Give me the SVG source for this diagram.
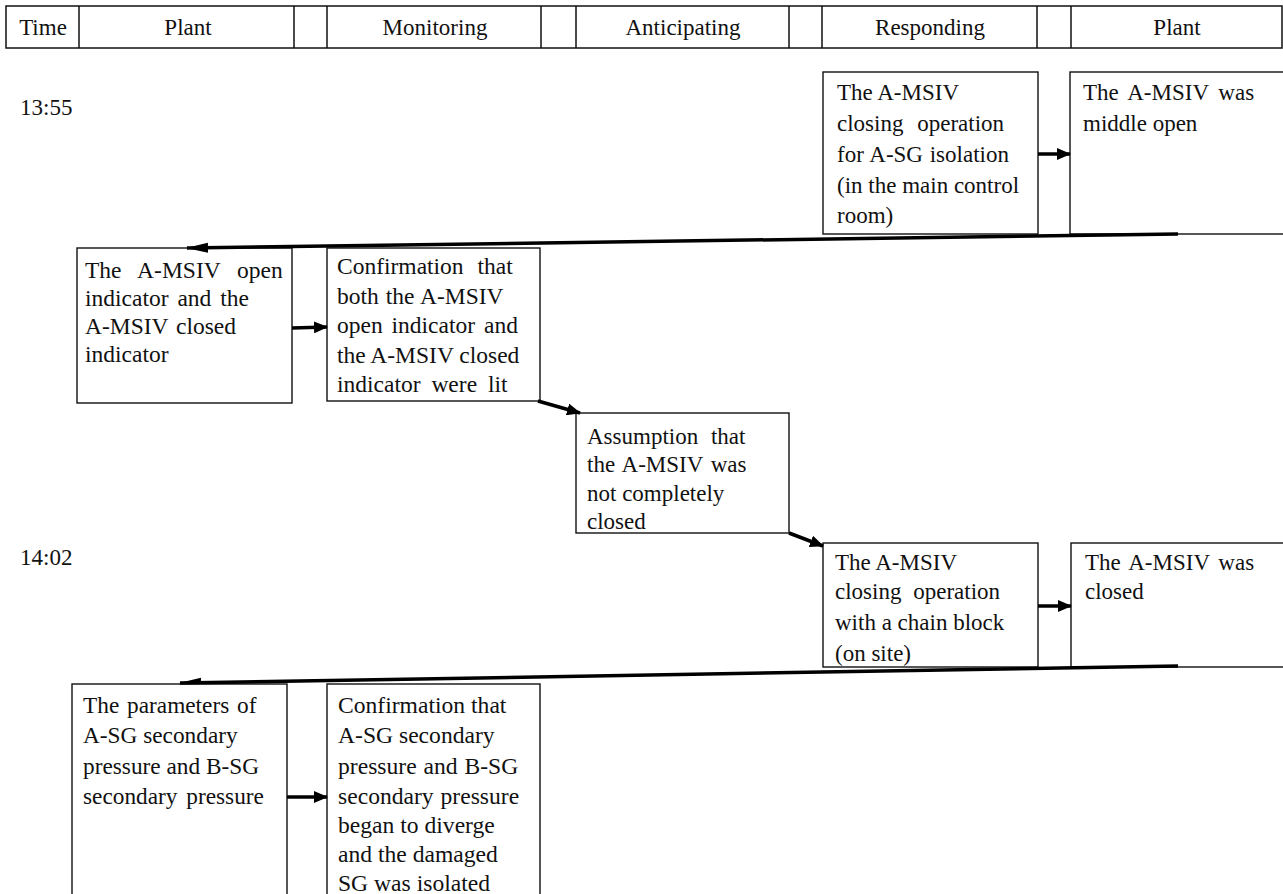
<svg xmlns="http://www.w3.org/2000/svg" width="1283" height="894" viewBox="0 0 1283 894">
<style>
text{font-family:'Liberation Serif','Times New Roman',serif;font-size:23px;fill:#111;}
.hd{text-anchor:middle;}
.lg{font-size:23.5px;}
.mg{font-size:23.3px;}
.xg{font-size:23.6px;}
.box{fill:#fff;stroke:#111;stroke-width:1.4;}
.hl{stroke:#111;stroke-width:1.5;fill:none;}
.arr{stroke:#000;stroke-width:3.5;fill:none;marker-end:url(#ah);}
.long{stroke:#000;stroke-width:3.5;fill:none;}
</style>
<defs>
<marker id="ah" markerUnits="userSpaceOnUse" markerWidth="14" markerHeight="12" refX="13" refY="6" orient="auto">
<path d="M0,0 L14,6 L0,12 Z" fill="#000"/>
</marker>
<marker id="ah2" markerUnits="userSpaceOnUse" markerWidth="22" markerHeight="12" refX="21" refY="6" orient="auto">
<path d="M0,1 L22,6 L0,11 Z" fill="#000"/>
</marker>
<marker id="ah3" markerUnits="userSpaceOnUse" markerWidth="22" markerHeight="12" refX="21" refY="6" orient="auto">
<path d="M0,11 L22,6 L0,6 Z" fill="#000"/>
</marker>
</defs>
<rect width="1283" height="894" fill="#fff"/>
<g id="header">
<rect x="6" y="6" width="1276" height="42" class="hl"/>
<path class="hl" d="M79,6V48 M294,6V48 M327,6V48 M541,6V48 M576,6V48 M789,6V48 M822,6V48 M1037,6V48 M1071,6V48"/>
<text class="hd" x="43" y="35">Time</text>
<text class="hd" x="188" y="35">Plant</text>
<text class="hd" x="435" y="35">Monitoring</text>
<text class="hd" x="683" y="35">Anticipating</text>
<text class="hd" x="930" y="35">Responding</text>
<text class="hd" x="1177" y="35">Plant</text>
</g>
<g id="times">
<text x="20" y="115">13:55</text>
<text x="20" y="565">14:02</text>
</g>
<g id="nodeA">
<rect class="box" x="823" y="72" width="215" height="162"/>
<text x="837" y="100">The A-MSIV</text>
<text x="837" y="131" word-spacing="8">closing operation</text>
<text x="837" y="162" word-spacing="1">for A-SG isolation</text>
<text x="837" y="193">(in the main control</text>
<text x="837" y="223">room)</text>
</g>
<g id="nodeB">
<rect class="box" x="1070" y="72" width="230" height="162"/>
<text x="1083" y="100" word-spacing="4">The A-MSIV was</text>
<text x="1083" y="131">middle open</text>
</g>
<g id="nodeC">
<rect class="box" x="77" y="248" width="215" height="155"/>
<text class="lg" x="85" y="278" word-spacing="11">The A-MSIV open</text>
<text class="lg" x="85" y="306" word-spacing="3">indicator and the</text>
<text class="lg" x="85" y="334" word-spacing="2">A-MSIV closed</text>
<text class="lg" x="85" y="362">indicator</text>
</g>
<g id="nodeD">
<rect class="box" x="327" y="248" width="213" height="153"/>
<text class="lg" x="337" y="274" word-spacing="8">Confirmation that</text>
<text class="lg" x="337" y="304" word-spacing="1">both the A-MSIV</text>
<text class="lg" x="337" y="333" word-spacing="3">open indicator and</text>
<text class="lg" x="337" y="363">the A-MSIV closed</text>
<text class="lg" x="337" y="392" word-spacing="5">indicator were lit</text>
</g>
<g id="nodeE">
<rect class="box" x="576" y="413" width="213" height="120"/>
<text x="587" y="444" word-spacing="7">Assumption that</text>
<text x="587" y="472" word-spacing="2">the A-MSIV was</text>
<text x="587" y="501">not completely</text>
<text x="587" y="529">closed</text>
</g>
<g id="nodeF">
<rect class="box" x="823" y="543" width="215" height="124"/>
<text x="835" y="570">The A-MSIV</text>
<text x="835" y="599" word-spacing="6">closing operation</text>
<text x="835" y="630">with a chain block</text>
<text x="835" y="661">(on site)</text>
</g>
<g id="nodeG">
<rect class="box" x="1071" y="543" width="230" height="124"/>
<text x="1085" y="570" word-spacing="3">The A-MSIV was</text>
<text x="1085" y="599">closed</text>
</g>
<g id="nodeH">
<rect class="box" x="72" y="684" width="215" height="230"/>
<text class="mg" x="83" y="713" word-spacing="2">The parameters of</text>
<text class="mg" x="83" y="743">A-SG secondary</text>
<text class="mg" x="83" y="774">pressure and B-SG</text>
<text class="mg" x="83" y="804" word-spacing="3">secondary pressure</text>
</g>
<g id="nodeI">
<rect class="box" x="327" y="684" width="213" height="230"/>
<text class="xg" x="338" y="713">Confirmation that</text>
<text class="xg" x="338" y="743">A-SG secondary</text>
<text class="xg" x="338" y="774" word-spacing="1">pressure and B-SG</text>
<text class="xg" x="338" y="804" word-spacing="1">secondary pressure</text>
<text class="xg" x="338" y="833">began to diverge</text>
<text class="xg" x="338" y="862">and the damaged</text>
<text class="xg" x="338" y="891">SG was isolated</text>
</g>
<g id="connectors">
<line class="arr" x1="1038" y1="154" x2="1070" y2="154"/>
<line class="long" x1="1178" y1="234" x2="187" y2="248" marker-end="url(#ah2)"/>
<line class="arr" x1="292" y1="328" x2="327" y2="327"/>
<line class="arr" x1="538" y1="401" x2="580" y2="413"/>
<line class="arr" x1="789" y1="533" x2="823" y2="546"/>
<line class="arr" x1="1038" y1="606" x2="1071" y2="606"/>
<line class="long" x1="1178" y1="666" x2="180" y2="683" marker-end="url(#ah3)"/>
<line class="arr" x1="287" y1="797" x2="327" y2="797"/>
</g>
</svg>
